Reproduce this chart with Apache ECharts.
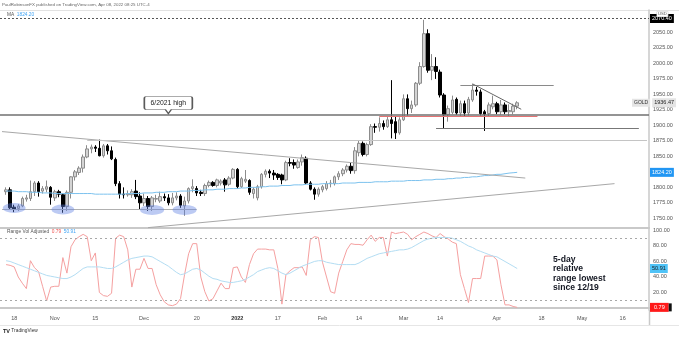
<!DOCTYPE html>
<html>
<head>
<meta charset="utf-8">
<script src="https://cdn.jsdelivr.net/npm/echarts@6/dist/echarts.min.js"></script>
<style>
  html, body { margin: 0; padding: 0; background: #ffffff; }
  #chart { width: 679px; height: 337px; }
</style>
</head>
<body>
<div id="chart"></div>
<script>
// ---- calendar: one padding weekday before the first session, then every weekday to late May ----
function weekdays(startIso, endIso) {
  const out = [];
  const end = Date.parse(endIso + 'T00:00:00Z');
  for (let t = Date.parse(startIso + 'T00:00:00Z'); t <= end; t += 86400000) {
    const d = new Date(t);
    const wd = d.getUTCDay();
    if (wd !== 0 && wd !== 6) out.push(d.toISOString().slice(0, 10));
  }
  return out;
}
const dates = weekdays('2021-10-13', '2022-05-24');

// time-axis tick labels
const timeTicks = {
  '2021-10-18': '18', '2021-11-01': 'Nov', '2021-11-15': '15', '2021-12-01': 'Dec',
  '2021-12-20': '20', '2022-01-03': '2022', '2022-01-17': '17', '2022-02-01': 'Feb',
  '2022-02-14': '14', '2022-03-01': 'Mar', '2022-03-14': '14', '2022-04-01': 'Apr',
  '2022-04-18': '18', '2022-05-02': 'May', '2022-05-16': '16'
};
const priceTicks = [1750, 1775, 1800, 1825, 1850, 1875, 1900, 1925, 1950, 1975, 2000, 2025, 2050];
const rangeTicks = [20, 40, 60, 80, 100];

// Gold daily candles from 2021-10-14: [open, close, low, high]
const goldOHLC = [
  [1793,1796,1788,1800],[1796,1767,1765,1800],[1768,1765,1760,1772],[1766,1770,1762,1773],
  [1770,1782,1768,1785],[1781,1783,1777,1788],[1782,1793,1778,1811],[1793,1807,1786,1810],
  [1807,1793,1785,1810],[1794,1798,1790,1802],[1797,1801,1792,1811],[1800,1784,1772,1802],
  [1783,1793,1778,1796],[1793,1789,1784,1796],[1788,1769,1759,1790],[1769,1792,1762,1795],
  [1792,1817,1782,1818],[1817,1825,1811,1828],[1824,1831,1820,1834],[1831,1849,1824,1853],
  [1849,1862,1847,1868],[1862,1865,1855,1869],[1865,1863,1857,1868],[1863,1851,1850,1877],
  [1851,1867,1848,1870],[1867,1859,1853,1870],[1859,1846,1844,1866],[1845,1806,1802,1848],
  [1806,1789,1782,1810],[1789,1788,1782,1800],[1788,1790,1785,1795],[1788,1793,1783,1797],
  [1794,1785,1781,1812],[1786,1775,1765,1792],[1775,1782,1770,1790],[1782,1769,1762,1786],
  [1769,1783,1762,1786],[1781,1782,1776,1788],[1778,1785,1775,1793],[1785,1783,1778,1790],
  [1783,1775,1771,1789],[1775,1783,1771,1791],[1783,1786,1779,1792],[1786,1771,1767,1789],
  [1770,1778,1754,1785],[1778,1798,1774,1800],[1798,1801,1792,1813],[1798,1791,1786,1802],
  [1792,1790,1786,1796],[1790,1803,1786,1806],[1803,1808,1800,1811],[1808,1803,1801,1810],
  [1803,1812,1800,1814],[1807,1810,1803,1813],[1812,1804,1793,1815],[1805,1815,1802,1818],
  [1815,1829,1813,1831],[1829,1801,1798,1831],[1801,1814,1799,1817],[1810,1813,1807,1828],
  [1811,1792,1788,1813],[1790,1797,1782,1800],[1783,1801,1779,1804],[1801,1821,1798,1823],
  [1821,1826,1816,1829],[1826,1823,1815,1829],[1823,1820,1812,1828],[1821,1816,1812,1823],
  [1820,1812,1805,1822],[1812,1840,1810,1843],[1840,1839,1834,1847],[1840,1836,1830,1845],
  [1832,1841,1830,1845],[1841,1848,1835,1853],[1847,1807,1805,1850],[1807,1797,1795,1810],
  [1797,1789,1780,1800],[1789,1797,1785,1800],[1796,1801,1792,1804],[1798,1806,1795,1810],
  [1806,1807,1800,1812],[1806,1817,1803,1819],[1817,1822,1812,1826],[1822,1828,1818,1831],
  [1828,1834,1824,1837],[1834,1827,1822,1840],[1827,1859,1822,1865],[1856,1871,1850,1875],
  [1871,1853,1850,1874],[1853,1869,1850,1872],[1869,1898,1867,1902],[1898,1897,1888,1903],
  [1897,1903,1890,1913],[1903,1898,1893,1908],[1898,1909,1896,1914],[1909,1903,1879,1973],
  [1906,1888,1878,1914],[1888,1909,1885,1913],[1909,1943,1907,1950],[1943,1927,1916,1950],
  [1927,1933,1920,1940],[1933,1968,1930,1970],[1968,1995,1965,2002],[1995,2048,1993,2070.4],
  [2048,1989,1985,2055],[1989,1995,1973,2015],[1995,1987,1975,2010],[1986,1949,1945,1990],
  [1949,1917,1895,1952],[1917,1927,1906,1932],[1921,1941,1918,1948],[1942,1920,1917,1945],
  [1920,1935,1915,1940],[1935,1920,1915,1940],[1920,1942,1916,1946],[1941,1957,1938,1967],
  [1957,1955,1948,1962],[1954,1919,1916,1958],[1922,1918,1891,1925],[1919,1933,1915,1937],
  [1930,1935,1926,1948],[1935,1922,1918,1938],[1922,1933,1917,1941],[1933,1922,1918,1937],
  [1922,1924,1915,1934],[1922,1931,1918,1935],[1931,1936.47,1926,1939]
];

// moving average drawn over the candles
const maValues = [
  1794,1794,1794,1793,1793,1793,1792,1792,1792,1791,1791,
  1791,1790,1790,1790,1790,1790,1790,1790,1790,1790,
  1790,1789,1789,1789,1789,1789,1789,1789,1789,1790,
  1790,1790,1790,1791,1791,1791,1792,1792,1792,1793,
  1793,1793,1794,1794,1794,1795,1795,1795,1796,1796,
  1796,1797,1797,1797,1798,1798,1798,1799,1799,1800,
  1800,1800,1801,1801,1802,1802,1802,1803,1803,1803,
  1804,1804,1804,1805,1805,1805,1805,1806,1806,1806,
  1806,1806,1807,1807,1807,1807,1808,1808,1808,1808,
  1809,1809,1809,1809,1810,1810,1810,1810,1811,1811,
  1811,1811,1812,1812,1812,1813,1813,1813,1814,1814,
  1815,1815,1816,1816,1817,1817,1818,1819,1819,1820,
  1821,1821,1822,1823,1823.6,1824.2
];

// Range Vol Adjusted (red) and its average (blue)
const rangeVol = [
  56,55,53,40,32,25,61,52,47,28,9,27,28,28,65,45,79,88,92,95,
  92,61,71,20,16,15,19,90,94,92,75,27,50,50,64,51,51,30,17,8,
  4,3,5,12,43,70,83,83,40,21,9,12,22,32,25,25,52,53,40,33,
  56,70,76,76,76,75,75,51,5,43,48,52,52,53,42,88,92,91,59,40,
  21,19,45,60,75,83,82,82,81,88,94,86,91,91,67,98,96,97,98,95,
  88,92,95,98,96,93,91,96,92,89,85,83,43,25,7,38,38,38,67,67,
  67,62,30,4,4,2,0.79
];
const rangeVolAvg = [
  61,60,58,56,54,52,50,48,46,44,42,41,40,39,38,38,40,43,47,51,
  53,53,53,53,52,51,51,53,56,59,62,64,65,66,67,67,66,63,60,57,
  54,50,46,43,44,47,50,51,49,45,41,38,37,35,34,33,33,34,35,37,
  40,43,47,49,51,52,51,48,45,43,45,48,51,54,56,58,60,61,61,59,
  58,57,56,56,56,56,56,58,61,64,66,68,70,71,72,73,74,75,75,76,
  78,81,84,87,89,90,91,91,91,91,90,88,86,83,80,78,75,73,71,69,
  67,66,63,60,57,54,50.91
];

const PAD = ['-'];
const lastClose = goldOHLC[goldOHLC.length - 1][1];
const lastMA = maValues[maValues.length - 1];
const lastRV = rangeVol[rangeVol.length - 1];
const lastAvg = rangeVolAvg[rangeVolAvg.length - 1];
const fmt = v => Number(v).toFixed(2);

const font = '"Liberation Sans", Arial, sans-serif';
const hidden = { color: 'rgba(0,0,0,0)', width: 0 };

// trend and level drawings on the price pane
function seg(d1, p1, d2, p2, color, width) {
  return [
    { coord: [d1, p1], lineStyle: { color: color, width: width || 1, type: 'solid' } },
    { coord: [d2, p2] }
  ];
}
const drawings = [
  seg('2021-10-13', 1890, '2022-04-12', 1815, '#a8a8a8', 1),
  seg('2021-11-11', 1876.6, '2022-05-24', 1876.6, '#c4c4c4', 1),
  seg('2021-12-02', 1735, '2022-05-12', 1806, '#a8a8a8', 1),
  seg('2021-10-13', 1764.5, '2021-12-20', 1764.5, '#b0b0b0', 1),
  seg('2022-02-21', 1914.5, '2022-04-15', 1914.5, '#e57373', 1),
  seg('2022-03-11', 1895.3, '2022-05-20', 1895.3, '#777777', 1),
  seg('2022-03-21', 1965, '2022-04-21', 1965, '#8a8a8a', 1),
  seg('2022-03-24', 1967, '2022-04-11', 1926, '#666666', 1),
  { yAxis: 1916.5, lineStyle: { color: '#707070', width: 1.5, type: 'solid' } },
  { yAxis: 2072.5, lineStyle: { color: '#555555', width: 1, type: [2, 2] },
    label: { show: true, position: 'end', distance: 1, formatter: fmt(2070.4),
             backgroundColor: '#000', color: '#fff', fontSize: 5.5, fontFamily: font, padding: [1.5, 2] } },
  { yAxis: lastClose, lineStyle: hidden,
    label: { show: true, position: 'end', distance: 1, offset: [-18, 0],
             formatter: '{g|GOLD}{s|}{p|' + fmt(lastClose) + '}',
             rich: {
               g: { backgroundColor: '#e4e4e4', color: '#333', fontSize: 5, fontFamily: font, padding: [1.5, 2] },
               s: { width: 2 },
               p: { backgroundColor: '#e4e4e4', color: '#222', fontSize: 5.5, fontFamily: font, padding: [1.5, 2] }
             } } }
];

// small captions (legend lines, header, footer)
function caption(x, y, text, rich, size) {
  return { type: 'text', silent: true, z: 100,
           style: { x: x, y: y, text: text, rich: rich, verticalAlign: 'middle', align: 'left',
                    fontFamily: font, fontSize: size || 4.8, fill: '#666' } };
}

const option = {
  animation: false,
  backgroundColor: '#ffffff',
  grid: [
    { left: 0, right: 30, top: 10, height: 218 },
    { left: 0, right: 30, top: 228, height: 82 }
  ],
  xAxis: [
    { type: 'category', gridIndex: 0, data: dates, boundaryGap: true,
      axisLine: { show: true, lineStyle: { color: '#c9c9c9', width: 2 } },
      axisTick: { show: false }, axisLabel: { show: false }, splitLine: { show: false } },
    { type: 'category', gridIndex: 1, data: dates, boundaryGap: true,
      axisLine: { show: true, lineStyle: { color: '#c9c9c9', width: 2 } },
      axisTick: { show: false }, splitLine: { show: false },
      axisLabel: {
        show: true, margin: 5, fontSize: 5.5, color: '#555', fontFamily: font, hideOverlap: false,
        interval: (idx, value) => Object.prototype.hasOwnProperty.call(timeTicks, value),
        formatter: v => v === '2022-01-03' ? '{y|2022}' : (timeTicks[v] || ''),
        rich: { y: { fontSize: 5.5, fontWeight: 'bold', color: '#333', fontFamily: font } }
      } }
  ],
  yAxis: [
    { type: 'value', gridIndex: 0, position: 'right', min: 1734.4, max: 2086.2,
      axisLine: { show: true, lineStyle: { color: '#c9c9c9', width: 1.5 } },
      axisTick: { show: false }, splitLine: { show: false },
      axisLabel: { customValues: priceTicks, formatter: v => fmt(v), fontSize: 5.5, color: '#555',
                   fontFamily: font, margin: 4 } },
    { type: 'value', gridIndex: 1, position: 'right', min: -2.6, max: 103.2,
      axisLine: { show: true, lineStyle: { color: '#c9c9c9', width: 1.5 } },
      axisTick: { show: false }, splitLine: { show: false },
      axisLabel: { customValues: rangeTicks, formatter: v => fmt(v), fontSize: 5.5, color: '#555',
                   fontFamily: font, margin: 4 } }
  ],
  series: [
    {
      name: 'GOLD', type: 'candlestick', xAxisIndex: 0, yAxisIndex: 0,
      data: [['-', '-', '-', '-']].concat(goldOHLC),
      barWidth: 3,
      itemStyle: { color: '#d4d4d4', color0: '#000000', borderColor: '#8c8c8c', borderColor0: '#000000', borderWidth: 1 },
      markLine: { silent: true, symbol: ['none', 'none'], animation: false,
                  label: { show: false }, data: drawings },
      markPoint: {
        silent: true, animation: false,
        data: [
          { coord: ['2021-10-18', 1766.6], symbol: 'circle', symbolSize: [23, 10] },
          { coord: ['2021-11-03', 1764.2], symbol: 'circle', symbolSize: [23, 10] },
          { coord: ['2021-12-03', 1763.6], symbol: 'circle', symbolSize: [24, 10] },
          { coord: ['2021-12-15', 1763.6], symbol: 'circle', symbolSize: [24, 10] },
          { coord: ['2021-12-09', 1919.2],
            symbol: 'path://M2,0 H46 Q48,0 48,2 V11 Q48,13 46,13 H27 L24,17 L21,13 H2 Q0,13 0,11 V2 Q0,0 2,0 Z',
            symbolSize: [48, 17], symbolOffset: [0, '-50%'],
            itemStyle: { color: '#ffffff', borderColor: '#5a5a5a', borderWidth: 1 },
            label: { show: true, formatter: '6/2021 high', position: 'inside', offset: [0, -2],
                     color: '#222', fontSize: 6.8, fontFamily: font } }
        ],
        itemStyle: { color: 'rgba(96,128,226,0.42)' },
        label: { show: false }
      }
    },
    {
      name: 'MA', type: 'line', xAxisIndex: 0, yAxisIndex: 0,
      data: PAD.concat(maValues), symbol: 'none',
      lineStyle: { color: '#7cc2ee', width: 1 },
      markLine: { silent: true, symbol: ['none', 'none'], animation: false,
        data: [{ yAxis: lastMA, lineStyle: hidden,
          label: { show: true, position: 'end', distance: 1, formatter: fmt(lastMA),
                   backgroundColor: '#2196f3', color: '#fff', fontSize: 5.5, fontFamily: font, padding: [1.5, 2] } }] }
    },
    {
      name: 'Range Vol Adjusted', type: 'line', xAxisIndex: 1, yAxisIndex: 1,
      data: PAD.concat(rangeVol), symbol: 'none',
      lineStyle: { color: '#f5a0a0', width: 1 },
      markLine: { silent: true, symbol: ['none', 'none'], animation: false, label: { show: false },
        data: [
          { yAxis: 90, lineStyle: { color: '#a8a8a8', width: 1, type: [2, 3] } },
          { yAxis: 10, lineStyle: { color: '#a8a8a8', width: 1, type: [2, 3] } },
          { yAxis: lastRV, lineStyle: hidden,
            label: { show: true, position: 'end', distance: 1, formatter: '{r|' + fmt(lastRV) + '}{k|}',
                     rich: { r: { backgroundColor: '#ff1a1a', color: '#fff', fontSize: 5.5, fontFamily: font, padding: [1.5, 4] },
                             k: { backgroundColor: '#111', width: 3, height: 8 } } } }
        ] }
    },
    {
      name: 'Average', type: 'line', xAxisIndex: 1, yAxisIndex: 1,
      data: PAD.concat(rangeVolAvg), symbol: 'none',
      lineStyle: { color: '#b3ddf3', width: 1 },
      markLine: { silent: true, symbol: ['none', 'none'], animation: false,
        data: [{ yAxis: lastAvg, lineStyle: hidden,
          label: { show: true, position: 'end', distance: 1, formatter: fmt(lastAvg),
                   backgroundColor: '#4fc3f7', color: '#1a1a1a', fontSize: 5.5, fontFamily: font, padding: [1.5, 2] } }] }
    }
  ],
  graphic: [
    { type: 'line', silent: true, shape: { x1: 0, y1: 10.5, x2: 679, y2: 10.5 }, style: { stroke: '#e2e2e2', lineWidth: 1 } },
    { type: 'line', silent: true, shape: { x1: 0, y1: 325.5, x2: 679, y2: 325.5 }, style: { stroke: '#e6e6e6', lineWidth: 1 } },
    { type: 'line', silent: true, shape: { x1: 649.5, y1: 310, x2: 649.5, y2: 325 }, style: { stroke: '#c9c9c9', lineWidth: 1.5 } },
    caption(2, 5, 'PaulRobinsonFX published on TradingView.com, Apr 08, 2022 08:25 UTC-4', undefined, 4.4),
    caption(7, 15, '{n|MA}  {v|' + fmt(lastMA) + '}', {
      n: { fontSize: 4.8, fill: '#555', fontFamily: font },
      v: { fontSize: 4.8, fill: '#42a5f5', fontFamily: font } }),
    caption(7, 232, '{n|Range Vol Adjusted}  {r|' + fmt(lastRV) + '}  {b|' + fmt(lastAvg) + '}', {
      n: { fontSize: 4.8, fill: '#555', fontFamily: font },
      r: { fontSize: 4.8, fill: '#ef5350', fontFamily: font },
      b: { fontSize: 4.8, fill: '#42a5f5', fontFamily: font } }),
    caption(3, 331, '{l|TV} {t|TradingView}', {
      l: { fontSize: 5.5, fontWeight: 'bold', fill: '#222', fontFamily: font },
      t: { fontSize: 4.8, fill: '#333', fontFamily: font } }),
    { type: 'text', silent: true, z: 101,
      style: { x: 657, y: 14, text: 'USD', fontSize: 4.2, fontFamily: font, fill: '#555', backgroundColor: '#fff',
               borderColor: '#ccc', borderWidth: 0.5, padding: [0.5, 1], verticalAlign: 'middle' } },
    { type: 'text', silent: true,
      style: { x: 553, y: 255, text: '5-day\nrelative\nrange lowest\nsince 12/19', fontSize: 8.6, fontWeight: 'bold',
               fontFamily: font, fill: '#131722', lineHeight: 9.3 } }
  ]
};

const chart = echarts.init(document.getElementById('chart'), null, { renderer: 'canvas' });
chart.setOption(option);
</script>
</body>
</html>
